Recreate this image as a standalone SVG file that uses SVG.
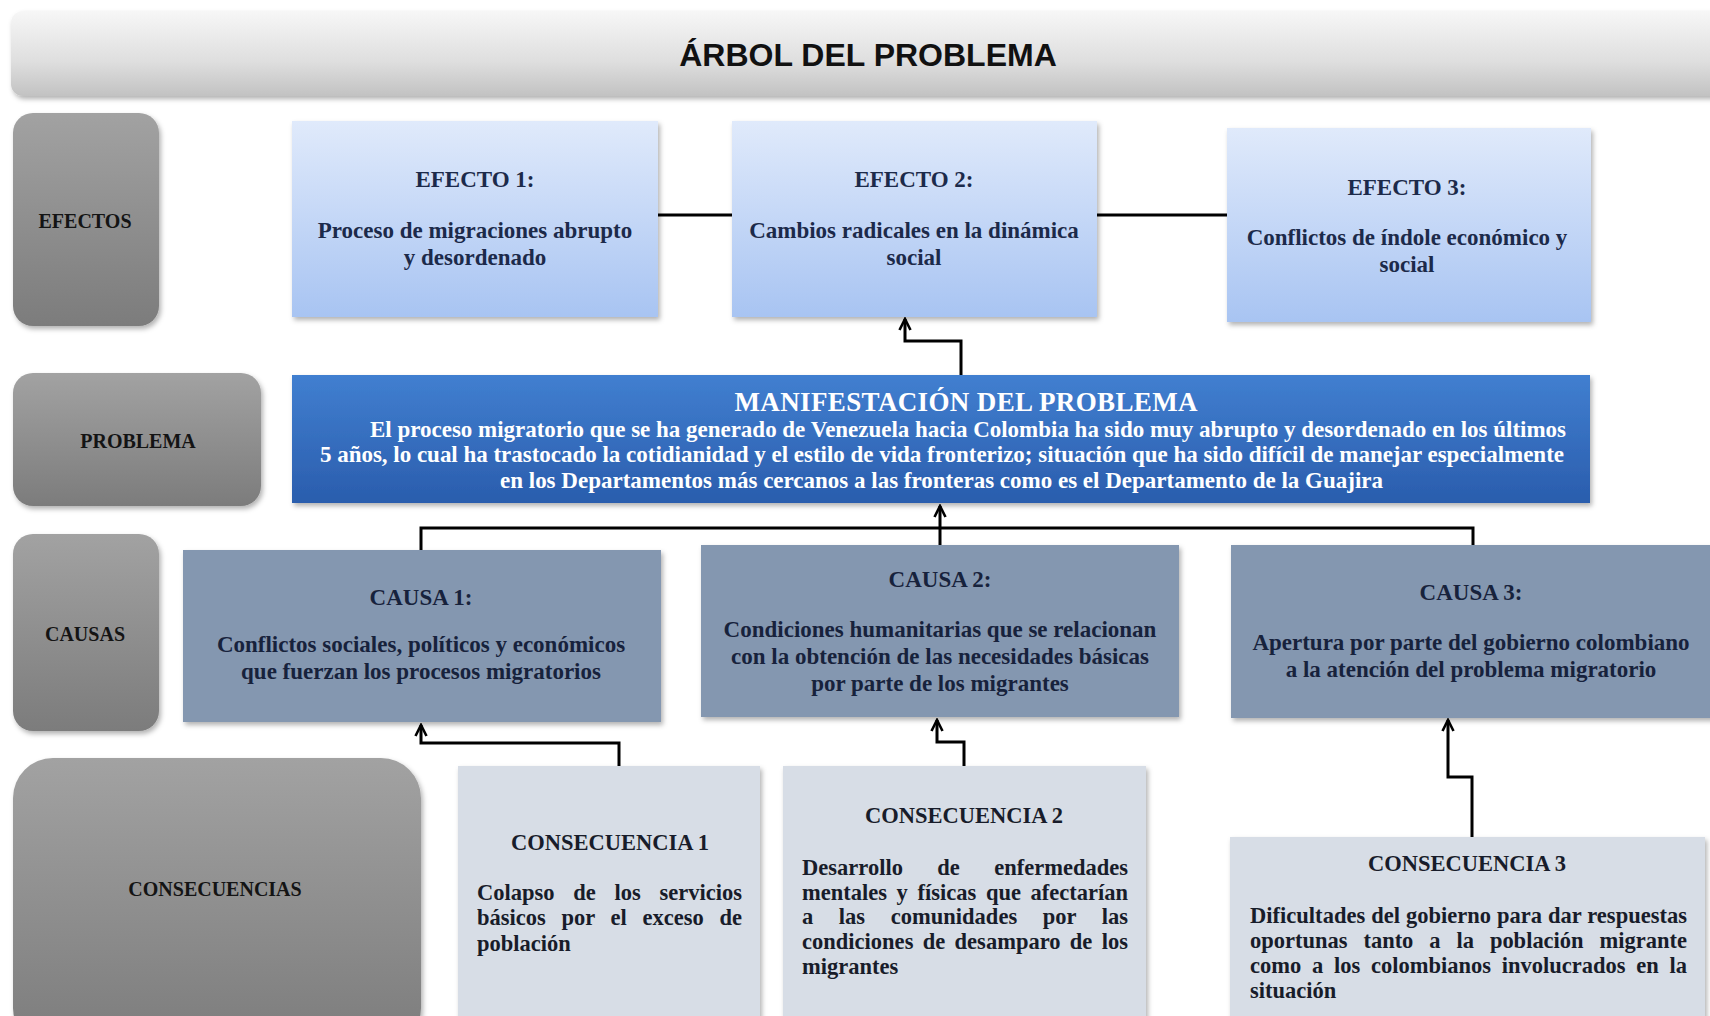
<svg xmlns="http://www.w3.org/2000/svg" width="1710" height="1016" viewBox="0 0 1710 1016">
<defs>
<linearGradient id="gTitle" x1="0" y1="0" x2="0" y2="1"><stop offset="0" stop-color="#f7f7f7"/><stop offset="0.6" stop-color="#dedede"/><stop offset="1" stop-color="#c2c2c2"/></linearGradient>
<linearGradient id="gGray" x1="0" y1="0" x2="0" y2="1"><stop offset="0" stop-color="#a2a2a2"/><stop offset="1" stop-color="#7c7c7c"/></linearGradient>
<linearGradient id="gEff" x1="0" y1="0" x2="0" y2="1"><stop offset="0" stop-color="#e0eafb"/><stop offset="1" stop-color="#a8c4f2"/></linearGradient>
<linearGradient id="gProb" x1="0" y1="0" x2="0" y2="1"><stop offset="0" stop-color="#417fd0"/><stop offset="1" stop-color="#2a5dad"/></linearGradient>
<filter id="sh" x="-10%" y="-10%" width="125%" height="130%"><feDropShadow dx="2" dy="3" stdDeviation="2.5" flood-color="#000" flood-opacity="0.3"/></filter>
<marker id="arr" viewBox="0 0 14 14" refX="12" refY="7" markerWidth="14" markerHeight="14" markerUnits="userSpaceOnUse" orient="auto"><path d="M1,1.5 L12,7 L1,12.5" fill="none" stroke="#000" stroke-width="2.6"/></marker>
<style>
.lbl{fill:url(#gGray)}
.eff{fill:url(#gEff)}
.cau{fill:#8497b0}
.con{fill:#d7dde6}
text{font-family:"Liberation Serif","Times New Roman",serif;font-weight:bold}
.lt{font-size:20px;fill:#141414;text-anchor:middle}
.et{font-size:23px;fill:#1c2a4a;text-anchor:middle}
.ct{font-size:23px;fill:#17223c;text-anchor:middle}
.kt{font-size:22.5px;fill:#181c2a;text-anchor:middle}
.kb{font-size:22.5px;fill:#181c2a}
.pt{fill:#ffffff}
.ln{fill:none;stroke:#000;stroke-width:3}
</style>
</defs>
<rect width="1710" height="1016" fill="#ffffff"/>

<g id="titulo">
<rect x="11" y="11" width="1720" height="85" rx="12" fill="url(#gTitle)" filter="url(#sh)"/>
<text x="868" y="66" text-anchor="middle" style="font-family:'Liberation Sans',Arial,sans-serif;font-size:32px;fill:#111">ÁRBOL DEL PROBLEMA</text>
</g>

<g id="lbl-efectos"><rect class="lbl" x="13" y="113" width="146" height="213" rx="20" filter="url(#sh)"/><text class="lt" x="85" y="228">EFECTOS</text></g>
<g id="lbl-problema"><rect class="lbl" x="13" y="373" width="248" height="133" rx="20" filter="url(#sh)"/><text class="lt" x="138" y="448">PROBLEMA</text></g>
<g id="lbl-causas"><rect class="lbl" x="13" y="534" width="146" height="197" rx="20" filter="url(#sh)"/><text class="lt" x="85" y="641">CAUSAS</text></g>
<g id="lbl-consecuencias"><rect class="lbl" x="13" y="758" width="408" height="290" rx="40" filter="url(#sh)"/><text class="lt" x="215" y="896">CONSECUENCIAS</text></g>

<g id="efecto1"><rect class="eff" x="292" y="121" width="366" height="196" filter="url(#sh)"/>
<text class="et" x="475" y="187">EFECTO 1:</text>
<text class="et" x="475" y="238">Proceso de migraciones abrupto</text>
<text class="et" x="475" y="265">y desordenado</text></g>

<g id="efecto2"><rect class="eff" x="732" y="121" width="365" height="196" filter="url(#sh)"/>
<text class="et" x="914" y="187">EFECTO 2:</text>
<text class="et" x="914" y="238">Cambios radicales en la dinámica</text>
<text class="et" x="914" y="265">social</text></g>

<g id="efecto3"><rect class="eff" x="1227" y="128" width="364" height="194" filter="url(#sh)"/>
<text class="et" x="1407" y="195">EFECTO 3:</text>
<text class="et" x="1407" y="245">Conflictos de índole económico y</text>
<text class="et" x="1407" y="272">social</text></g>

<g id="problema"><rect x="292" y="375" width="1298" height="128" fill="url(#gProb)" filter="url(#sh)"/>
<text class="pt" x="966" y="411" text-anchor="middle" style="font-size:27px" textLength="463" lengthAdjust="spacing">MANIFESTACIÓN DEL PROBLEMA</text>
<text class="pt" x="370" y="437" style="font-size:23px" textLength="1196" lengthAdjust="spacing">El proceso migratorio que se ha generado de Venezuela hacia Colombia ha sido muy abrupto y desordenado en los últimos</text>
<text class="pt" x="320" y="462" style="font-size:23px" textLength="1244" lengthAdjust="spacing">5 años, lo cual ha trastocado la cotidianidad y el estilo de vida fronterizo; situación que ha sido difícil de manejar especialmente</text>
<text class="pt" x="500" y="488" style="font-size:23px" textLength="883" lengthAdjust="spacing">en los Departamentos más cercanos a las fronteras como es el Departamento de la Guajira</text></g>

<g id="causa1"><rect class="cau" x="183" y="550" width="478" height="172" filter="url(#sh)"/>
<text class="ct" x="421" y="605">CAUSA 1:</text>
<text class="ct" x="421" y="652">Conflictos sociales, políticos y económicos</text>
<text class="ct" x="421" y="679">que fuerzan los procesos migratorios</text></g>

<g id="causa2"><rect class="cau" x="701" y="545" width="478" height="172" filter="url(#sh)"/>
<text class="ct" x="940" y="587">CAUSA 2:</text>
<text class="ct" x="940" y="637">Condiciones humanitarias que se relacionan</text>
<text class="ct" x="940" y="664">con la obtención de las necesidades básicas</text>
<text class="ct" x="940" y="691">por parte de los migrantes</text></g>

<g id="causa3"><rect class="cau" x="1231" y="545" width="490" height="173" filter="url(#sh)"/>
<text class="ct" x="1471" y="600">CAUSA 3:</text>
<text class="ct" x="1471" y="650">Apertura por parte del gobierno colombiano</text>
<text class="ct" x="1471" y="677">a la atención del problema migratorio</text></g>

<g id="consecuencia1"><rect class="con" x="458" y="766" width="302" height="270" filter="url(#sh)"/>
<text class="kt" x="610" y="850">CONSECUENCIA 1</text>
<text class="kb" x="477" y="900" style="word-spacing:13.1px" textLength="265" lengthAdjust="spacing">Colapso de los servicios</text>
<text class="kb" x="477" y="925" style="word-spacing:10px" textLength="265" lengthAdjust="spacing">básicos por el exceso de</text>
<text class="kb" x="477" y="951">población</text></g>

<g id="consecuencia2"><rect class="con" x="783" y="766" width="363" height="270" filter="url(#sh)"/>
<text class="kt" x="964" y="823">CONSECUENCIA 2</text>
<text class="kb" x="802" y="875" style="word-spacing:28.7px" textLength="326" lengthAdjust="spacing">Desarrollo de enfermedades</text>
<text class="kb" x="802" y="900" style="word-spacing:4px" textLength="326" lengthAdjust="spacing">mentales y físicas que afectarían</text>
<text class="kb" x="802" y="924" style="word-spacing:19.9px" textLength="326" lengthAdjust="spacing">a las comunidades por las</text>
<text class="kb" x="802" y="949" style="word-spacing:3.7px" textLength="326" lengthAdjust="spacing">condiciones de desamparo de los</text>
<text class="kb" x="802" y="974">migrantes</text></g>

<g id="consecuencia3"><rect class="con" x="1230" y="837" width="475" height="200" filter="url(#sh)"/>
<text class="kt" x="1467" y="871">CONSECUENCIA 3</text>
<text class="kb" x="1250" y="923" style="word-spacing:0.3px" textLength="437" lengthAdjust="spacing">Dificultades del gobierno para dar respuestas</text>
<text class="kb" x="1250" y="948" style="word-spacing:10.3px" textLength="437" lengthAdjust="spacing">oportunas tanto a la población migrante</text>
<text class="kb" x="1250" y="973" style="word-spacing:5.1px" textLength="437" lengthAdjust="spacing">como a los colombianos involucrados en la</text>
<text class="kb" x="1250" y="998">situación</text></g>

<g id="conectores">
<path class="ln" d="M658,215 H732"/>
<path class="ln" d="M1097,215 H1227"/>
<path class="ln" d="M961,375 V341 H905 V319" marker-end="url(#arr)"/>
<path class="ln" d="M421,550 V528 H1473 V545"/>
<path class="ln" d="M940,545 V506" marker-end="url(#arr)"/>
<path class="ln" d="M619,766 V743 H421 V725" marker-end="url(#arr)"/>
<path class="ln" d="M964,766 V742 H937 V720" marker-end="url(#arr)"/>
<path class="ln" d="M1472,837 V777 H1448 V720" marker-end="url(#arr)"/>
</g>
</svg>
